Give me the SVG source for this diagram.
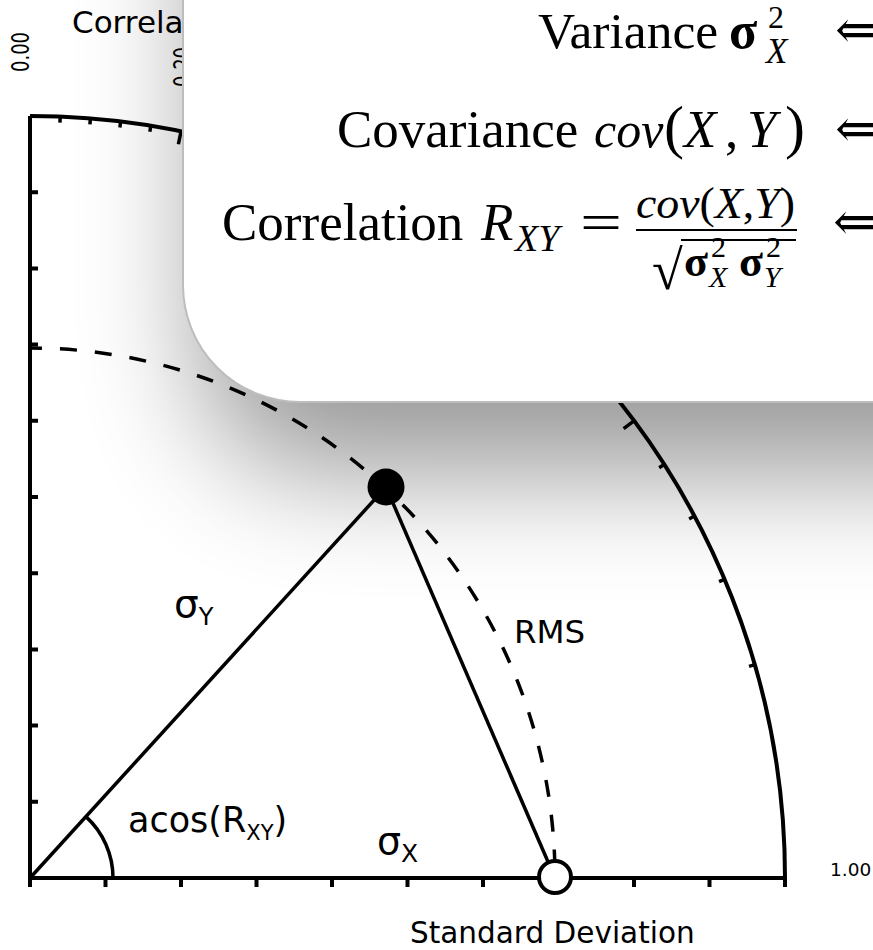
<svg xmlns="http://www.w3.org/2000/svg" width="873" height="950" viewBox="0 0 873 950">
<style>
.ax{fill:none;stroke:#000;stroke-width:4}
.tk{stroke:#000;stroke-width:4;fill:none}
.ct{stroke:#000;stroke-width:3.5}
.ln{fill:none;stroke:#000;stroke-width:3.5}
.lbl{font-family:"DejaVu Sans",sans-serif;fill:#000}
.tex{font-family:"Liberation Serif","DejaVu Serif",serif;fill:#000}
.it{font-style:italic}
.sg{font-weight:bold}
</style>
<defs>
<filter id="sh" filterUnits="userSpaceOnUse" x="-200" y="-400" width="1400" height="1200"><feGaussianBlur stdDeviation="60"/></filter>
</defs>
<rect width="873" height="950" fill="#fff"/>
<g id="axes">
<path class="ax" d="M30,116 L30,878 L785,878"/>
<path class="ax" d="M30,116 A755,762 0 0 1 785,878"/>
<path class="tk" d="M30,878v9 M105.5,878v9 M181,878v9 M256.5,878v9 M332,878v9 M407.5,878v9 M483,878v9 M558.5,878v9 M634,878v9 M709.5,878v9 M785,878v9"/>
<path class="tk" d="M30,801.8h8 M30,725.6h8 M30,649.4h8 M30,573.2h8 M30,497h8 M30,420.8h8 M30,344.6h8 M30,268.4h8 M30,192.2h8"/>
<g transform="translate(30,878) scale(1,1.00927)">
<line class="ct" y1="-755" y2="-749" transform="rotate(2.292)"/>
<line class="ct" y1="-755" y2="-749" transform="rotate(4.589)"/>
<line class="ct" y1="-755" y2="-749" transform="rotate(6.892)"/>
<line class="ct" y1="-755" y2="-749" transform="rotate(9.207)"/>
<line class="ct" y1="-755" y2="-742" transform="rotate(11.537)"/>
<line class="ct" y1="-755" y2="-749" transform="rotate(13.887)"/>
<line class="ct" y1="-755" y2="-749" transform="rotate(16.260)"/>
<line class="ct" y1="-755" y2="-749" transform="rotate(18.663)"/>
<line class="ct" y1="-755" y2="-749" transform="rotate(21.100)"/>
<line class="ct" y1="-755" y2="-742" transform="rotate(23.578)"/>
<line class="ct" y1="-755" y2="-749" transform="rotate(26.104)"/>
<line class="ct" y1="-755" y2="-749" transform="rotate(28.685)"/>
<line class="ct" y1="-755" y2="-749" transform="rotate(31.332)"/>
<line class="ct" y1="-755" y2="-749" transform="rotate(34.056)"/>
<line class="ct" y1="-755" y2="-742" transform="rotate(36.870)"/>
<line class="ct" y1="-755" y2="-749" transform="rotate(39.792)"/>
<line class="ct" y1="-755" y2="-749" transform="rotate(42.843)"/>
<line class="ct" y1="-755" y2="-749" transform="rotate(46.054)"/>
<line class="ct" y1="-755" y2="-749" transform="rotate(49.464)"/>
<line class="ct" y1="-755" y2="-742" transform="rotate(53.130)"/>
<line class="ct" y1="-755" y2="-749" transform="rotate(57.140)"/>
<line class="ct" y1="-755" y2="-749" transform="rotate(61.642)"/>
<line class="ct" y1="-755" y2="-749" transform="rotate(66.926)"/>
<line class="ct" y1="-755" y2="-749" transform="rotate(73.740)"/>
</g>
<text class="lbl" x="72" y="33" font-size="31">Correlation</text>
<text class="lbl" font-size="24" transform="translate(29,72) rotate(-90)" textLength="40" lengthAdjust="spacingAndGlyphs">0.00</text>
<text class="lbl" font-size="24" transform="translate(191,87) rotate(-90)" textLength="40" lengthAdjust="spacingAndGlyphs">0.20</text>
<text class="lbl" x="830" y="876" font-size="18.5">1.00</text>
<text class="lbl" x="410" y="943" font-size="29.5">Standard Deviation</text>
</g>
<g id="connectors">
<path class="ln" stroke-width="4.5" stroke-dasharray="17 18" stroke-dashoffset="5" d="M30,348 A525,530 0 0 1 555,878"/>
<path class="ln" d="M30,878 L386,487"/>
<path class="ln" d="M386,487 L555,878"/>
<path class="ln" stroke-width="3" d="M113,878 A83,83 0 0 0 85.9,816.6"/>
</g>
<g id="node-test">
<circle cx="386" cy="487" r="18.5" fill="#000"/>
</g>
<g id="node-ref">
<circle cx="555" cy="877" r="16" fill="#fff" stroke="#000" stroke-width="4"/>
</g>
<g id="labels">
<text class="lbl" x="174" y="617" font-size="39">σ<tspan font-size="24" dy="8">Y</tspan></text>
<text class="lbl" x="377" y="854" font-size="38">σ<tspan font-size="25" dy="8">X</tspan></text>
<text class="lbl" x="128" y="832" font-size="35">acos(R<tspan font-size="21" dy="8">XY</tspan><tspan dy="-8">)</tspan></text>
<text class="lbl" x="514" y="643" font-size="32.5">RMS</text>
</g>
<g id="overlay">
<path d="M183,-300 H1200 V402 H300 A117,117 0 0 1 183,285 Z" fill="#000" opacity="0.4" filter="url(#sh)" transform="translate(18,70)"/>
<path d="M183,-10 H890 V402 H300 A117,117 0 0 1 183,285 Z" fill="#fff" stroke="#bdbdbd" stroke-width="2"/>
<g class="tex" font-size="53">
<text y="48"><tspan x="538" font-size="51.5">Variance</tspan><tspan x="729" font-size="52" class="sg">σ</tspan></text>
<text x="768" y="28" font-size="32">2</text>
<text x="766" y="63" font-size="35" class="it">X</text>
<text x="835" y="48">⇐</text>
<text y="147"><tspan x="337">Covariance</tspan><tspan x="594" font-size="50" class="it">cov</tspan><tspan x="664" font-size="60">(</tspan><tspan x="684" class="it">X</tspan><tspan x="725">,</tspan><tspan x="747" class="it">Y</tspan><tspan x="785" font-size="60">)</tspan></text>
<text x="835" y="147">⇐</text>
<text y="240"><tspan x="222">Correlation</tspan><tspan x="481" class="it">R</tspan></text>
<text x="515" y="251" font-size="38" class="it">XY</text>
<text x="580" y="240" textLength="42" lengthAdjust="spacingAndGlyphs">=</text>
<text x="636" y="218" font-size="45" textLength="159" lengthAdjust="spacingAndGlyphs"><tspan class="it">cov</tspan>(<tspan class="it">X</tspan>,<tspan class="it">Y</tspan>)</text>
<line x1="636" y1="230" x2="797" y2="230" stroke="#000" stroke-width="2"/>
<text x="652" y="289" font-size="56">√</text>
<line x1="681" y1="240" x2="796" y2="240" stroke="#000" stroke-width="2"/>
<text x="684" y="276" font-size="44" class="sg">σ</text>
<text x="711" y="257" font-size="30">2</text>
<text x="709" y="287" font-size="30" class="it">X</text>
<text x="739" y="276" font-size="44" class="sg">σ</text>
<text x="766" y="257" font-size="30">2</text>
<text x="764" y="287" font-size="30" class="it">Y</text>
<text x="833" y="240">⇐</text>
</g>
</g>
</svg>
